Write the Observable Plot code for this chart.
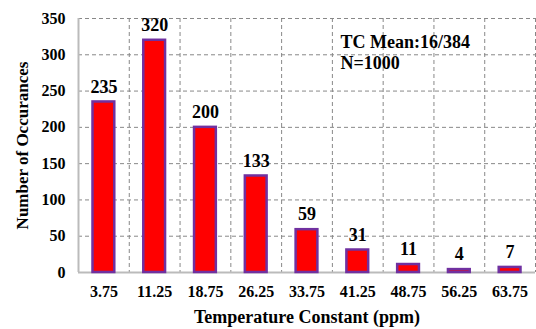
<!DOCTYPE html>
<html>
<head>
<meta charset="utf-8">
<script src="https://cdn.jsdelivr.net/npm/d3@7"></script>
<script src="https://cdn.jsdelivr.net/npm/@observablehq/plot@0.6"></script>
<style>
  html, body { margin: 0; padding: 0; background: #fff; }
  svg { font-family: "Liberation Serif", "Times New Roman", serif; font-weight: bold; }
</style>
</head>
<body>
<div id="chart"></div>
<script>
const binCenters = [3.75, 11.25, 18.75, 26.25, 33.75, 41.25, 48.75, 56.25, 63.75];
const tickLabels = ["3.75", "11.25", "18.75", "26.25", "33.75", "41.25", "48.75", "56.25", "63.75"];
const counts = [235, 320, 200, 133, 59, 31, 11, 4, 7];
const binWidth = 7.5;
const yTicks = [0, 50, 100, 150, 200, 250, 300, 350];
const annotation = ["TC Mean:16/384", "N=1000"];

const data = binCenters.map((c, i) => ({
  x1: c - binWidth / 2, x2: c + binWidth / 2, x: c, y: counts[i], label: String(counts[i])
}));
const edges = binCenters.map(c => c + binWidth / 2);

const plot = Plot.plot({
  width: 536,
  height: 329,
  marginLeft: 78,
  marginRight: 1,
  marginTop: 18,
  marginBottom: 57,
  style: { fontFamily: "Liberation Serif, Times New Roman, serif", fontWeight: "bold", color: "#000", background: "#fff" },
  x: { domain: [0, binWidth * binCenters.length] },
  y: { domain: [0, 350] },
  marks: [
    Plot.ruleY(yTicks.filter(d => d > 0), { stroke: "#888", strokeDasharray: "4,3", strokeWidth: 1 }),
    Plot.ruleX(edges, { stroke: "#888", strokeDasharray: "4,3", strokeWidth: 1 }),
    Plot.ruleY([0], { stroke: "#bbb", strokeWidth: 2 }),
    Plot.ruleX([0], { stroke: "#bbb", strokeWidth: 2 }),
    Plot.rectY(data, { x1: "x1", x2: "x2", y: "y", fill: "#ff0000", stroke: "#7030a0", strokeWidth: 2.5, insetLeft: 14.5, insetRight: 14.5 }),
    Plot.text(data, { x: "x", y: "y", text: "label", dy: -15, fontSize: 18, fontWeight: "bold", fill: "#000" }),
    Plot.axisX(binCenters, { tickFormat: (d, i) => tickLabels[i], tickSize: 0, tickPadding: 13, fontSize: 16, fontWeight: "bold", label: null }),
    Plot.axisY(yTicks, { tickSize: 0, tickPadding: 13, fontSize: 16, fontWeight: "bold", label: null }),
    Plot.text(["Temperature Constant (ppm)"], { frameAnchor: "bottom", dy: 50, fontSize: 18, fontWeight: "bold", fill: "#000" }),
    Plot.text(["Number of Occurances"], { frameAnchor: "left", dx: -56, rotate: -90, textAnchor: "middle", fontSize: 17, fontWeight: "bold", fill: "#000" }),
    Plot.text([annotation.join("\n")], { frameAnchor: "top-left", dx: 262, dy: 15, textAnchor: "start", lineAnchor: "top", lineHeight: 1.15, fontSize: 18, fontWeight: "bold", fill: "#000" })
  ]
});
document.getElementById("chart").appendChild(plot);
</script>
</body>
</html>
